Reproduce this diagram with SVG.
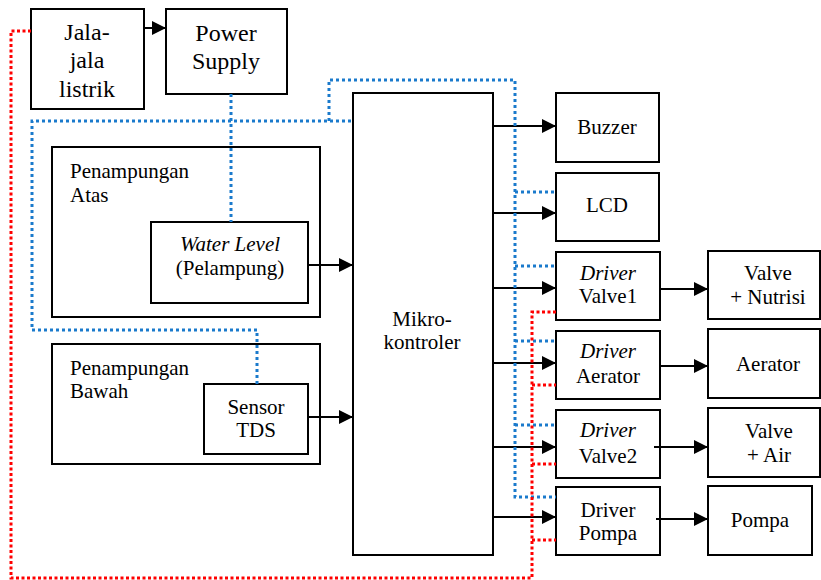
<svg xmlns="http://www.w3.org/2000/svg" width="821" height="580" viewBox="0 0 821 580">
<style>
.box{fill:#fff;stroke:#000;stroke-width:2}
.t{text-anchor:middle}
.big{font-size:24px}
.i{font-style:italic}
.ar{fill:none;stroke:#000;stroke-width:2;marker-end:url(#ah)}
.blue{fill:none;stroke:#1a7acc;stroke-width:3;stroke-dasharray:3 3}
.red{fill:none;stroke:#ff0000;stroke-width:3;stroke-dasharray:3 2.5}
</style>
<defs>
<marker id="ah" markerUnits="userSpaceOnUse" markerWidth="15" markerHeight="14" refX="14" refY="7" orient="auto">
<path d="M0,0 L14,7 L0,14 Z" fill="#000"/>
</marker>
</defs>
<rect width="821" height="580" fill="#fff"/>

<g id="nodes" font-family="Liberation Serif, DejaVu Serif, serif" font-size="21" fill="#000">
<g id="jala"><rect class="box" x="31" y="9" width="113" height="100"/>
<text class="t big" x="87" y="40">Jala-</text><text class="t big" x="87" y="68">jala</text><text class="t big" x="87" y="97">listrik</text></g>
<g id="power"><rect class="box" x="166" y="9" width="121" height="85"/>
<text class="t big" x="226" y="41">Power</text><text class="t big" x="226" y="69">Supply</text></g>
<g id="atas"><rect class="box" x="52" y="147" width="268" height="170"/>
<text x="70" y="178">Penampungan</text><text x="70" y="202">Atas</text></g>
<g id="waterlevel"><rect class="box" x="151" y="222" width="157" height="81"/>
<text class="t i" x="230" y="251">Water Level</text><text class="t" x="230" y="275">(Pelampung)</text></g>
<g id="bawah"><rect class="box" x="52" y="344" width="268" height="120"/>
<text x="70" y="375">Penampungan</text><text x="70" y="398">Bawah</text></g>
<g id="tds"><rect class="box" x="204" y="384" width="104" height="70"/>
<text class="t" x="256" y="414">Sensor</text><text class="t" x="256" y="437">TDS</text></g>
<g id="mikro"><rect class="box" x="353" y="93" width="140" height="462"/>
<text class="t" x="422" y="326">Mikro-</text><text class="t" x="422" y="349">kontroler</text></g>
<g id="buzzer"><rect class="box" x="556" y="93" width="103" height="69"/>
<text class="t" x="607" y="134">Buzzer</text></g>
<g id="lcd"><rect class="box" x="556" y="173" width="103" height="68"/>
<text class="t" x="607" y="212">LCD</text></g>
<g id="drv1"><rect class="box" x="556" y="252" width="104" height="68"/>
<text class="t i" x="608" y="280">Driver</text><text class="t" x="608" y="303">Valve1</text></g>
<g id="drvaer"><rect class="box" x="556" y="331" width="104" height="68"/>
<text class="t i" x="608" y="358">Driver</text><text class="t" x="608" y="383">Aerator</text></g>
<g id="drv2"><rect class="box" x="556" y="410" width="104" height="68"/>
<text class="t i" x="608" y="437">Driver</text><text class="t" x="608" y="463">Valve2</text></g>
<g id="drvpompa"><rect class="box" x="556" y="487" width="104" height="68"/>
<text class="t" x="608" y="517">Driver</text><text class="t" x="608" y="540">Pompa</text></g>
<g id="valvenut"><rect class="box" x="708" y="251" width="112" height="68"/>
<text class="t" x="768" y="280">Valve</text><text class="t" x="768" y="304">+ Nutrisi</text></g>
<g id="aerator"><rect class="box" x="708" y="329" width="112" height="69"/>
<text class="t" x="768" y="371">Aerator</text></g>
<g id="valveair"><rect class="box" x="708" y="408" width="112" height="69"/>
<text class="t" x="769" y="438">Valve</text><text class="t" x="769" y="462">+ Air</text></g>
<g id="pompa"><rect class="box" x="708" y="486" width="104" height="69"/>
<text class="t" x="760" y="527">Pompa</text></g>
</g>

<g id="connectors">
<path class="ar" d="M144,28 H166"/>
<path class="ar" d="M308,265 H353"/>
<path class="ar" d="M308,417 H353"/>
<path class="ar" d="M493,126 H556"/>
<path class="ar" d="M493,213 H556"/>
<path class="ar" d="M493,288 H556"/>
<path class="ar" d="M493,363 H556"/>
<path class="ar" d="M493,447 H556"/>
<path class="ar" d="M493,517 H556"/>
<path class="ar" d="M660,289 H708"/>
<path class="ar" d="M660,366 H708"/>
<path class="ar" d="M654,447 H708"/>
<path class="ar" d="M656,519 H708"/>

<path class="blue" d="M231,94 V222"/>
<path class="blue" d="M257,384 V330 H32 V121 H353"/>
<path class="blue" d="M329,121 V80 H515 V497 H556"/>
<path class="blue" d="M515,192 H556 M515,266 H556 M515,341 H556 M515,425 H556"/>

<path class="red" d="M31,31 H11 V578 H532 V312 H556"/>
<path class="red" d="M532,385 H556 M532,464 H556 M532,540 H556"/>
</g>
</svg>
